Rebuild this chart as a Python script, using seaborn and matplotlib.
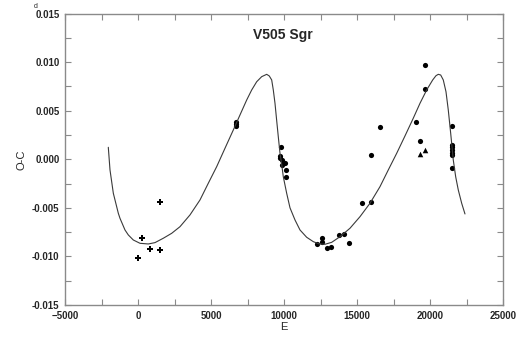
import matplotlib
matplotlib.use("Agg")
import matplotlib.pyplot as plt
import seaborn as sns
import pandas as pd
from matplotlib.ticker import MultipleLocator

# Fitted O-C curve
fit_e = [-2034, -1918, -1690, -1348, -1233, -891, -664, -322, 137, 705, 1164,
         1733, 2308, 2876, 3561, 4246, 4815, 5390, 5958, 6527, 6986, 7445,
         7787, 8130, 8472, 8815, 8992, 9157, 9267, 9383, 9495, 9609, 9726,
         9840, 9952, 10183, 10411, 10754, 11096, 11553, 12006, 12420, 12808,
         13266, 13836, 14520, 15205, 15890, 16575, 17143, 17718, 18287, 18854,
         19315, 19772, 20184, 20410, 20568, 20732, 20910, 21095, 21252, 21417,
         21595, 21759, 21937, 22170, 22396]
fit_oc = [0.00123, -0.00110, -0.00350, -0.00556, -0.00608, -0.00728, -0.00779,
          -0.00831, -0.00865, -0.00872, -0.00858, -0.00813, -0.00762,
          -0.00694, -0.00573, -0.00419, -0.00247, -0.00076, 0.00113, 0.00301,
          0.00456, 0.00610, 0.00713, 0.00798, 0.00850, 0.00874, 0.00857,
          0.00816, 0.00713, 0.00576, 0.00404, 0.00232, 0.00061, -0.00050,
          -0.00180, -0.00350, -0.00500, -0.00625, -0.00728, -0.00803,
          -0.00848, -0.00872, -0.00875, -0.00855, -0.00797, -0.00710,
          -0.00591, -0.00453, -0.00282, -0.00110, 0.00061, 0.00240, 0.00422,
          0.00576, 0.00713, 0.00816, 0.00860, 0.00874, 0.00867, 0.00816,
          0.00695, 0.00507, 0.00267, -0.00008, -0.00180, -0.00316, -0.00453,
          -0.00563]

# visual minima (plus symbols)
vis_e = [-21, 274, 801, 1507, 1507]
vis_oc = [-0.01019, -0.00813, -0.00920, -0.00934, -0.00440]

# photoelectric / CCD minima (dots)
pe_e = [6690, 6700, 6710, 9770, 9750, 9726, 9840, 10068, 9840, 10114, 10114,
        12283, 12580, 12580, 12922, 13194, 13786, 14108, 14451, 15364, 15979,
        15979, 16575, 19020, 19315, 19658, 19680, 21526, 21500, 21510, 21520,
        21510, 21520, 21526]
pe_oc = [0.0034, 0.0036, 0.0038, 0.00123, 0.0003, 0.0001, -0.00008, -0.00035,
         -0.00059, -0.0011, -0.00179, -0.00872, -0.00807, -0.00848, -0.00916,
         -0.00906, -0.00779, -0.00766, -0.00858, -0.00447, -0.00436, 0.00044,
         0.00335, 0.00383, 0.00188, 0.0097, 0.00726, 0.00342, 0.00147,
         0.00123, 0.00095, 0.00068, 0.00044, -0.00087]

# other minima (triangles)
tri_e = [19337, 19658]
tri_oc = [0.00054, 0.00095]

sns.set_style("ticks")
plt.rcParams['font.family'] = ['Liberation Sans', 'DejaVu Sans']

fig = plt.figure(figsize=(5.25, 3.37), dpi=100)
ax = fig.add_axes([65 / 525, 1 - 305 / 337, 438 / 525, 291.5 / 337])

fit = pd.DataFrame({'E': fit_e, 'O-C': fit_oc})
sns.lineplot(data=fit, x='E', y='O-C', sort=False, color='#3a3a3a',
             linewidth=0.8, ax=ax)
sns.scatterplot(x=pe_e, y=pe_oc, marker='o', s=14, color='black',
                edgecolor='black', linewidth=0, ax=ax)
sns.scatterplot(x=vis_e, y=vis_oc, marker='P', s=22, color='black',
                edgecolor='black', linewidth=0, ax=ax)
sns.scatterplot(x=tri_e, y=tri_oc, marker='^', s=16, color='black',
                edgecolor='black', linewidth=0, ax=ax)

ax.set_xlim(-5000, 25000)
ax.set_ylim(-0.015, 0.015)
ax.xaxis.set_major_locator(MultipleLocator(5000))
ax.xaxis.set_minor_locator(MultipleLocator(2500))
ax.yaxis.set_major_locator(MultipleLocator(0.005))
ax.yaxis.set_minor_locator(MultipleLocator(0.0025))
ax.yaxis.set_major_formatter(plt.FuncFormatter(lambda v, p: f"{v:.3f}"))

for side in ['top', 'right', 'bottom', 'left']:
    ax.spines[side].set_visible(True)
    ax.spines[side].set_color('#8a8a8a')
    ax.spines[side].set_linewidth(1.0)
ax.tick_params(which='both', direction='in', top=True, right=True,
               length=4, width=0.8, color='#8a8a8a')
ax.tick_params(which='major', labelsize=7, pad=4)
for lab in ax.get_xticklabels() + ax.get_yticklabels():
    lab.set_fontweight('bold')

ax.set_xlabel('E', fontsize=8, labelpad=1)
ax.set_ylabel('O-C', fontsize=8, labelpad=4)
ax.text(0.498, 0.926, 'V505 Sgr', transform=ax.transAxes, ha='center',
        va='center', fontsize=10, fontweight='bold')
fig.text(36 / 525, 1 - 6 / 337, 'd', fontsize=5, ha='center', va='center')

fig.savefig('out.png', dpi=100)
